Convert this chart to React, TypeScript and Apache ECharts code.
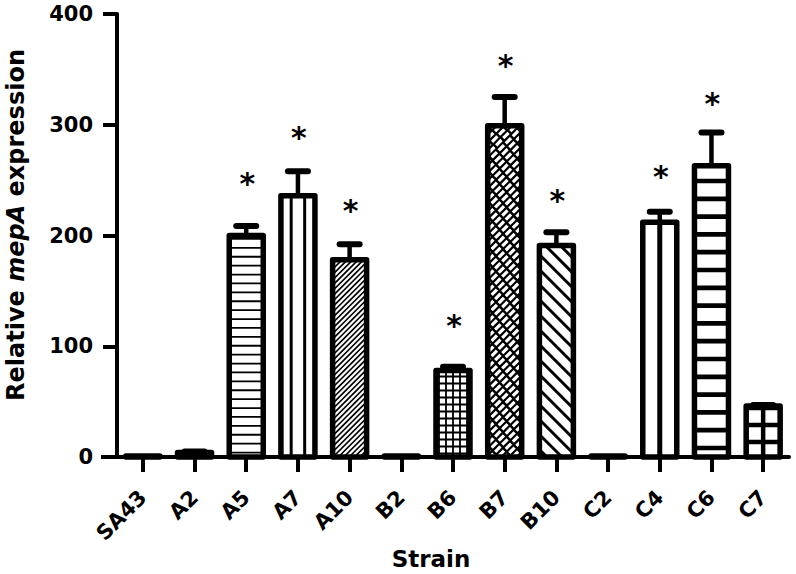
import React, { useEffect, useRef } from "react";
import * as echarts from "echarts";

const categories = ["SA43", "A2", "A5", "A7", "A10", "B2", "B6", "B7", "B10", "C2", "C4", "C6", "C7"];
const values = [1, 4, 200, 236, 178, 1, 78, 299, 191, 1, 212, 263, 46];
const errors = [0, 1, 8.5, 22, 14, 0, 3.5, 26, 12, 0, 9.5, 30, 1];
const starLevels: (number | null)[] = [null, null, 252, 294, 228, null, 124, 359, 237, null, 259, 325, null];
const yMin = 0;
const yMax = 400;
const yInterval = 100;
const xTitle = "Strain";

const FONT = "DejaVu Sans";
const BAR_W = 34;
const BORDER = 5.5;

type Pat =
  | null
  | { kind: "h"; t: number; p: number; ph: number }
  | { kind: "v"; t: number; p: number; ph: number }
  | { kind: "grid"; t: number; p: number; ph: number; phx: number }
  | { kind: "slash"; t: number; p: number }
  | { kind: "back"; t: number; p: number }
  | { kind: "brick"; t: number; p: number };

const patterns: Pat[] = [
  null,
  null,
  { kind: "h", t: 1.8, p: 8.9, ph: 4.45 },
  { kind: "v", t: 3, p: 13.5, ph: 6.75 },
  { kind: "slash", t: 1.7, p: 3.8 },
  null,
  { kind: "grid", t: 1.8, p: 7, ph: 3.5, phx: 0 },
  { kind: "brick", t: 3.2, p: 5.4 },
  { kind: "back", t: 3, p: 10.6 },
  null,
  { kind: "v", t: 5, p: 17.5, ph: 0 },
  { kind: "h", t: 4.7, p: 17.8, ph: 9 },
  { kind: "grid", t: 4.5, p: 17, ph: 15, phx: 0 },
];

function patternChildren(pat: Pat, x0: number, x1: number, y0: number, y1: number, cx: number): any[] {
  const out: any[] = [];
  if (!pat || y1 - y0 < 2) return out;
  const hRects = (t: number, p: number, ph: number) => {
    for (let y = y1 - ph; y > y0 - t; y -= p) {
      const a = Math.max(y0, y - t / 2);
      const b = Math.min(y1, y + t / 2);
      if (b > a) out.push({ type: "rect", shape: { x: x0, y: a, width: x1 - x0, height: b - a }, style: { fill: "#000" } });
    }
  };
  const vRects = (t: number, p: number, ph: number) => {
    const start = cx + ph - Math.ceil((cx + ph - x0 + t) / p) * p;
    for (let x = start; x < x1 + t; x += p) {
      const a = Math.max(x0, x - t / 2);
      const b = Math.min(x1, x + t / 2);
      if (b > a) out.push({ type: "rect", shape: { x: a, y: y0, width: b - a, height: y1 - y0 }, style: { fill: "#000" } });
    }
  };
  const diag = (slash: boolean, t: number, p: number, stroke: string, dash?: number[]) => {
    const step = p * Math.SQRT2;
    let k = 0;
    if (slash) {
      // x + y = c
      const cStart = x0 + y0 - ((x0 + y0) % step);
      for (let c = cStart; c <= x1 + y1 + step; c += step, k++) {
        const xa = Math.max(x0, c - y1);
        const xb = Math.min(x1, c - y0);
        if (xb > xa)
          out.push({
            type: "line",
            shape: { x1: xb, y1: c - xb, x2: xa, y2: c - xa },
            style: { stroke, lineWidth: t, lineDash: dash, lineDashOffset: dash ? (k % 2) * 5 : 0 },
          });
      }
    } else {
      // y - x = c
      const cStart = y0 - x1 - (((y0 - x1) % step) + step) % step;
      for (let c = cStart; c <= y1 - x0 + step; c += step, k++) {
        const xa = Math.max(x0, y0 - c);
        const xb = Math.min(x1, y1 - c);
        if (xb > xa)
          out.push({ type: "line", shape: { x1: xa, y1: xa + c, x2: xb, y2: xb + c }, style: { stroke, lineWidth: t } });
      }
    }
  };
  switch (pat.kind) {
    case "h":
      hRects(pat.t, pat.p, pat.ph);
      break;
    case "v":
      vRects(pat.t, pat.p, pat.ph);
      break;
    case "grid":
      hRects(pat.t, pat.p, pat.ph);
      vRects(pat.t, pat.p, pat.phx);
      break;
    case "slash":
      diag(true, pat.t, pat.p, "#000");
      break;
    case "back":
      diag(false, pat.t, pat.p, "#000");
      break;
    case "brick":
      out.push({ type: "rect", shape: { x: x0, y: y0, width: x1 - x0, height: y1 - y0 }, style: { fill: "#000" } });
      diag(true, pat.t, pat.p, "#fff", [7.5, 2.5]);
      break;
  }
  return out;
}

export default function App() {
  const ref = useRef<HTMLDivElement>(null);
  useEffect(() => {
    if (!ref.current) return;
    const chart = echarts.init(ref.current, undefined, { renderer: "svg" });
    const option: any = {
      animation: false,
      backgroundColor: "#fff",
      grid: { left: 117, right: 7, top: 14, bottom: 117, containLabel: false },
      xAxis: {
        type: "category",
        data: categories,
        axisLine: { show: true, lineStyle: { color: "#000", width: 4 } },
        axisTick: { show: true, alignWithLabel: true, length: 15, lineStyle: { color: "#000", width: 4 } },
        axisLabel: { interval: 0, rotate: 45, margin: 37, color: "#000", fontFamily: FONT, fontWeight: "bold", fontSize: 21 },
        splitLine: { show: false },
      },
      yAxis: {
        type: "value",
        min: yMin,
        max: yMax,
        interval: yInterval,
        axisLine: { show: true, lineStyle: { color: "#000", width: 4 } },
        axisTick: { show: true, length: 14, lineStyle: { color: "#000", width: 4 } },
        axisLabel: { margin: 24, color: "#000", fontFamily: FONT, fontWeight: "bold", fontSize: 21 },
        splitLine: { show: false },
      },
      graphic: [
        { type: "line", shape: { x1: 101, y1: 457, x2: 119, y2: 457 }, style: { stroke: "#000", lineWidth: 4 }, z: 10 },
        {
          type: "text",
          x: 16,
          y: 225,
          rotation: Math.PI / 2,
          style: {
            text: "{a|Relative }{b|mepA}{a| expression}",
            align: "center",
            verticalAlign: "middle",
            fill: "#000",
            font: `bold 24px "${FONT}"`,
            rich: {
              a: { fontFamily: FONT, fontWeight: "bold", fontSize: 24, fill: "#000" },
              b: { fontFamily: FONT, fontWeight: "bold", fontStyle: "italic", fontSize: 24, fill: "#000" },
            },
          },
        },
        {
          type: "text",
          x: 431,
          y: 559,
          style: { text: xTitle, align: "center", verticalAlign: "middle", fill: "#000", font: `bold 23px "${FONT}"` },
        },
      ],
      series: [
        {
          type: "custom",
          z: 2,
          encode: { x: 0, y: 1 },
          data: values.map((v, i) => [i, v]),
          renderItem: (params: any, api: any) => {
            const i = api.value(0);
            const v = api.value(1);
            const top = api.coord([i, v]);
            const base = api.coord([i, 0]);
            const cx = top[0];
            const x0 = cx - BAR_W / 2;
            const x1 = cx + BAR_W / 2;
            const y0 = top[1];
            const y1 = base[1];
            const children: any[] = [
              { type: "rect", shape: { x: x0, y: y0, width: BAR_W, height: y1 - y0 }, style: { fill: "#fff" } },
              ...patternChildren(patterns[i], x0, x1, y0, y1, cx),
              {
                type: "rect",
                shape: { x: x0, y: y0, width: BAR_W, height: y1 - y0 },
                style: { fill: "none", stroke: "#000", lineWidth: BORDER, lineJoin: "round" },
              },
            ];
            return { type: "group", children };
          },
        },
        {
          type: "custom",
          z: 4,
          encode: { x: 0, y: 1 },
          data: values.map((v, i) => [i, v, errors[i], starLevels[i] == null ? -1 : starLevels[i]]),
          renderItem: (params: any, api: any) => {
            const i = api.value(0);
            const v = api.value(1);
            const e = api.value(2);
            const s = api.value(3);
            const children: any[] = [];
            if (e > 0) {
              const p0 = api.coord([i, v]);
              const p1 = api.coord([i, v + e]);
              children.push({ type: "line", shape: { x1: p0[0], y1: p0[1], x2: p1[0], y2: p1[1] }, style: { stroke: "#000", lineWidth: 4.5 } });
              children.push({ type: "line", shape: { x1: p1[0] - 10, y1: p1[1], x2: p1[0] + 10, y2: p1[1] }, style: { stroke: "#000", lineWidth: 6, lineCap: "round" } });
            }
            if (s > 0) {
              const ps = api.coord([i, s]);
              children.push({ type: "text", x: ps[0] + 1, y: ps[1] + 6, style: { text: "*", fill: "#000", align: "center", verticalAlign: "middle", font: `bold 30px "${FONT}"` } });
            }
            return { type: "group", children };
          },
        },
      ],
    };
    chart.setOption(option);
    return () => chart.dispose();
  }, []);
  return <div ref={ref} style={{ position: "fixed", left: 0, top: 0, width: 796, height: 574, background: "#fff" }} />;
}
